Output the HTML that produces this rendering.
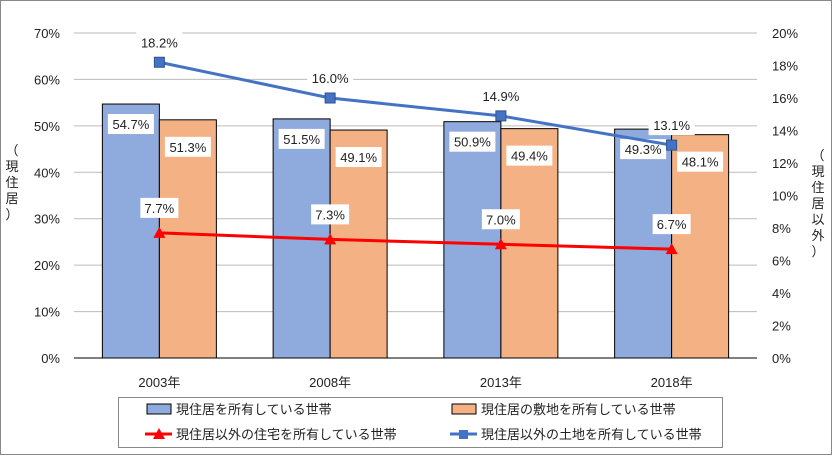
<!DOCTYPE html>
<html><head><meta charset="utf-8"><style>
body{margin:0;background:#fff}
svg text{font-family:"Liberation Sans","Noto Sans CJK JP",sans-serif;fill:#222}
</style></head><body>
<svg id="c" width="832" height="455" xmlns="http://www.w3.org/2000/svg">
<rect x="0.5" y="0.5" width="831" height="454" fill="#fff" stroke="#888"/>
<g id="g"></g>
</svg>
<script>
const categories=["2003年","2008年","2013年","2018年"];
const ownHome=[54.7,51.5,50.9,49.3];
const ownSite=[51.3,49.1,49.4,48.1];
const otherHouse=[7.7,7.3,7.0,6.7];
const otherLand=[18.2,16.0,14.9,13.1];
const leftTicks=[0,10,20,30,40,50,60,70];
const rightTicks=[0,2,4,6,8,10,12,14,16,18,20];
const NS="http://www.w3.org/2000/svg";
const g=document.getElementById('g');
const X0=74,X1=757,Y0=358,Y1=33;
const yL=v=>Y0-(v/70)*(Y0-Y1);
const yR=v=>Y0-(v/20)*(Y0-Y1);
const cw=(X1-X0)/categories.length;
const xc=i=>X0+cw*(i+0.5);
const bw=57;
function el(t,a,txt){const e=document.createElementNS(NS,t);for(const k in a)e.setAttribute(k,a[k]);if(txt!=null)e.textContent=txt;g.appendChild(e);return e;}
leftTicks.forEach(v=>{
 if(v>0){const l=el('line',{x1:X0,x2:X1,y1:yL(v),y2:yL(v),stroke:'#bbb'});}
 const t=el('text',{x:60,y:yL(v)+5,'text-anchor':'end','font-size':13},v+'%');
 
});
rightTicks.forEach(v=>{
 const t=el('text',{x:772,y:yR(v)+5,'font-size':13},v+'%');
 
});
function label(x,y,s,name){
 const w=s.length*8+6;
 const r=el('rect',{x:x-w/2,y:y-10,width:w,height:20,fill:'#fff'});
 
 const t=el('text',{x:x,y:y+5,'text-anchor':'middle','font-size':13},s);
 
}
categories.forEach((c,i)=>{
 const b1=el('rect',{x:xc(i)-bw,y:yL(ownHome[i]),width:bw,height:Y0-yL(ownHome[i]),fill:'#8faadc',stroke:'#000'});
 
 const b2=el('rect',{x:xc(i),y:yL(ownSite[i]),width:bw,height:Y0-yL(ownSite[i]),fill:'#f4b183',stroke:'#000'});
 
 const t=el('text',{x:xc(i),y:387,'text-anchor':'middle','font-size':13},c);
 
});
const ax=el('line',{x1:X0,x2:X1,y1:Y0,y2:Y0,stroke:'#000'});

categories.forEach((c,i)=>{
 label(xc(i)-bw/2,yL(ownHome[i])+20,ownHome[i].toFixed(1)+'%','label-own-home');
 label(xc(i)+bw/2,yL(ownSite[i])+27,ownSite[i].toFixed(1)+'%','label-own-site');
});
const p1=el('polyline',{points:otherHouse.map((v,i)=>xc(i)+','+yR(v)).join(' '),fill:'none',stroke:'#ff0000','stroke-width':3});

const p2=el('polyline',{points:otherLand.map((v,i)=>xc(i)+','+yR(v)).join(' '),fill:'none',stroke:'#4472c4','stroke-width':3});

categories.forEach((c,i)=>{
 const x=xc(i),y=yR(otherHouse[i]);
 const m=el('polygon',{points:`${x-6},${y+5} ${x+6},${y+5} ${x},${y-6}`,fill:'#ff0000'});
 
 const y2=yR(otherLand[i]);
 const m2=el('rect',{x:x-5,y:y2-5,width:10,height:10,fill:'#4472c4',stroke:'#2f528f'});
 
 label(x,y-25,otherHouse[i].toFixed(1)+'%','label-other-house');
 label(x,y2-20,otherLand[i].toFixed(1)+'%','label-other-land');
});
// axis titles
['（','現','住','居','）'].forEach((ch,k)=>{const t=el('text',{x:12,y:155+k*16,'text-anchor':'middle','font-size':13},ch);});
['（','現','住','居','以','外','）'].forEach((ch,k)=>{const t=el('text',{x:818,y:160+k*16,'text-anchor':'middle','font-size':13},ch);});
// legend
const lg=el('rect',{x:118.5,y:397.5,width:604,height:50,fill:'#fff',stroke:'#888'});

function legText(x,y,s){const t=el('text',{x:x,y:y,'font-size':13},s);}
let r=el('rect',{x:147,y:404,width:24,height:10,fill:'#8faadc',stroke:'#000'});
legText(176,414,'現住居を所有している世帯');
r=el('rect',{x:452,y:404,width:24,height:10,fill:'#f4b183',stroke:'#000'});
legText(481,414,'現住居の敷地を所有している世帯');
r=el('line',{x1:145,x2:172,y1:434,y2:434,stroke:'#ff0000','stroke-width':3});
r=el('polygon',{points:'153,439 165,439 159,428',fill:'#ff0000'});
legText(176,439,'現住居以外の住宅を所有している世帯');
r=el('line',{x1:450,x2:477,y1:434,y2:434,stroke:'#4472c4','stroke-width':3});
r=el('rect',{x:459,y:430,width:9,height:9,fill:'#4472c4'});
legText(481,439,'現住居以外の土地を所有している世帯');
</script>
</body></html>
